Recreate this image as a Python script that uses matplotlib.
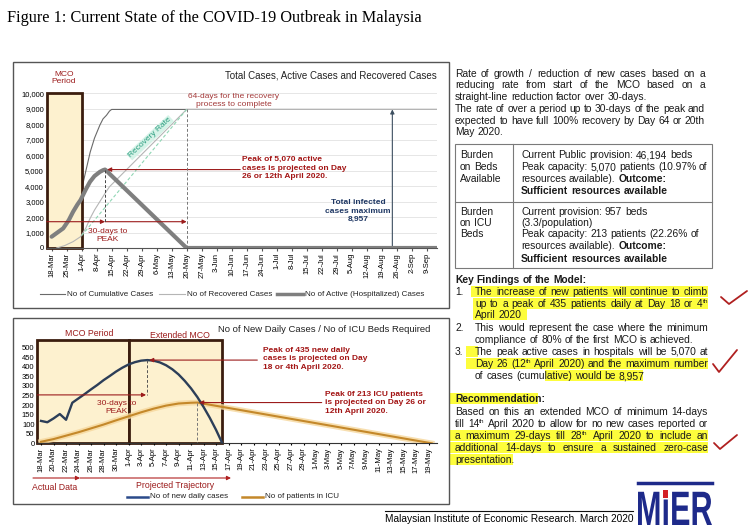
import numpy as np
import matplotlib.pyplot as plt
from matplotlib.patches import Rectangle, PathPatch
from matplotlib.textpath import TextPath
from matplotlib.font_manager import FontProperties
from matplotlib.transforms import Affine2D

plt.rcParams['font.family'] = ['Liberation Sans', 'DejaVu Sans']

# ---- top chart data (day 0 = 18-Mar) ----
week_labels = ['18-Mar', '25-Mar', '1-Apr', '8-Apr', '15-Apr', '22-Apr', '29-Apr', '6-May',
               '13-May', '20-May', '27-May', '3-Jun', '10-Jun', '17-Jun', '24-Jun', '1-Jul',
               '8-Jul', '15-Jul', '22-Jul', '29-Jul', '5-Aug', '12-Aug', '19-Aug', '26-Aug',
               '2-Sep', '9-Sep']
cum_day = [0, 3, 6, 9, 12, 13.5, 15, 16.5, 18, 20, 22.5, 24, 25.6, 27, 28, 179.7]
cum_val = [790, 1030, 1520, 2030, 2626, 3420, 4400, 5300, 6200, 7100, 7940, 8350, 8580, 8850, 8957, 8957]
active_day = [0, 2, 5.4, 8, 10, 12, 13.5, 16, 17.9, 20, 22.5, 24, 24.9, 26, 27, 63, 179.7]
active_val = [730, 930, 1270, 1800, 2340, 2800, 3100, 3800, 4280, 4650, 4920, 5030, 5070, 4950, 4800, 0, 0]
rec_day = [2.3, 6, 10, 13.5, 16, 17.9, 20, 22.5, 25, 27, 63, 179.7]
rec_val = [0, 150, 410, 730, 1300, 1900, 2450, 3000, 3550, 3960, 8957, 8957]
mco_end = 14
recovery_end = 63
total_max = 8957

# ---- bottom chart data ----
day2_labels = ['18-Mar', '20-Mar', '22-Mar', '24-Mar', '26-Mar', '28-Mar', '30-Mar', '1-Apr',
               '3-Apr', '5-Apr', '7-Apr', '9-Apr', '11-Apr', '13-Apr', '15-Apr', '17-Apr',
               '19-Apr', '21-Apr', '23-Apr', '25-Apr', '27-Apr', '29-Apr', '1-May', '3-May',
               '5-May', '7-May', '9-May', '11-May', '13-May', '15-May', '17-May', '19-May']
daily_day = list(range(30))
daily_val = [117, 110, 130, 153, 123, 212, 235, 258, 282, 305, 330, 352, 375, 395, 412,
             424, 432, 435, 432, 423, 408, 387, 360, 326, 287, 242, 190, 133, 70, 0]
icu_day = [0, 2, 4, 6, 8, 10, 12, 14, 16, 18, 20, 22, 24, 25, 62.5]
icu_val = [8, 22, 40, 58, 78, 98, 120, 141, 162, 181, 197, 208, 212, 213, 0]
ext_mco_end = 29

RED = '#9c1c1c'
NAVY = '#2c3e58'
BOX = '#fdf1cf'
BOXEDGE = '#3b1d0e'

fig = plt.figure(figsize=(7.49, 5.30), dpi=100)
ov = fig.add_axes([0, 0, 1, 1], zorder=-1)
ov.set_xlim(0, 749)
ov.set_ylim(530, 0)
ov.axis('off')
renderer = fig.canvas.get_renderer()

def px_axes(l, t, r, b):
    return fig.add_axes([l / 749, 1 - b / 530, (r - l) / 749, (b - t) / 530])

# frames
for (l, t, r, b) in [(13, 62, 449, 308), (13, 318, 449, 504)]:
    ov.add_patch(Rectangle((l, t), r - l, b - t, fill=False, ec='#555555', lw=1))

ov.text(7, 18, 'Figure 1: Current State of the COVID-19 Outbreak in Malaysia',
        fontfamily='Liberation Serif', fontsize=11.7, va='center')

# ================= top chart =================
ax = px_axes(46.7, 93.3, 436.7, 248)
ax.patch.set_alpha(0)
ax.set_xlim(-2.3, 179.7)
ax.set_ylim(0, 10000)
ax.yaxis.grid(True, color='#e2e2e2', lw=0.6, zorder=0)
ax.set_axisbelow(True)
for s in ['top', 'right', 'left']:
    ax.spines[s].set_visible(False)
ax.spines['bottom'].set_color('#555555')
ax.set_yticks(np.arange(0, 10001, 1000))
ax.set_yticklabels(['{:,}'.format(v) for v in range(0, 10001, 1000)], fontsize=5.5)
ax.set_xticks(np.arange(len(week_labels)) * 7)
ax.set_xticklabels(week_labels, rotation=90, fontsize=5.5)
ax.tick_params(axis='y', length=0, pad=2)
ax.tick_params(axis='x', length=2, pad=1.5, color='#555555')

ax.plot(cum_day, cum_val, color='#6a6a6a', lw=0.8, zorder=1)
ax.add_patch(Rectangle((-2.3, 0), mco_end + 2.3, 10000, fc=BOX, ec=BOXEDGE, lw=2, zorder=2, clip_on=False))
ax.plot(rec_day, rec_val, color='#b5b5b5', lw=0.8, zorder=3)
ax.plot([14, recovery_end], [800, total_max], color='#8fd6b4', lw=0.8, ls=(0, (3, 2)), zorder=3)
ax.plot(active_day, active_val, color='#7f7f7f', lw=3, zorder=4, solid_capstyle='round')

ipk = int(np.argmax(active_val))
pk_day, pk_val = active_day[ipk], active_val[ipk]
arw = dict(arrowstyle='-|>', color=RED, lw=0.8, mutation_scale=6, shrinkA=0, shrinkB=0)
ax.annotate('', xy=(pk_day, 1700), xytext=(-2.3, 1700), arrowprops=arw, zorder=5)
ax.annotate('', xy=(recovery_end, 1700), xytext=(pk_day, 1700), arrowprops=arw, zorder=5)
ax.annotate('', xy=(pk_day + 1, pk_val), xytext=(88, pk_val), arrowprops=arw, zorder=5)
ax.plot([pk_day, pk_day], [pk_val, 1700], color='#444444', lw=0.7, ls=(0, (3, 2)), zorder=5)
ax.plot([recovery_end, recovery_end], [0, total_max], color='#777777', lw=0.7, ls=(0, (3, 2)), zorder=5)
ax.annotate('', xy=(159, total_max), xytext=(159, 0),
            arrowprops=dict(arrowstyle='-|>', color='#3d4f60', lw=0.8, mutation_scale=6, shrinkA=0, shrinkB=0))
ax.text(26, 840, '30-days to\nPEAK', color=RED, fontsize=6, ha='center', va='center', zorder=6)
ax.text(89, 5160, 'Peak of 5,070 active\ncases is projected on Day\n26 or 12th April 2020.',
        color='#a31515', fontsize=6, fontweight='bold', ha='left', va='center', linespacing=1.3)
ax.text(143, 2370, 'Total infected\ncases maximum\n8,957', color='#1f3864', fontsize=6,
        fontweight='bold', ha='center', va='center', linespacing=1.3)
ax.text(85, 9530, '64-days for the recovery\nprocess to complete', color='#a33a3a', fontsize=6,
        ha='center', va='center', linespacing=1.25, clip_on=False)
ax.text(46, 7130, 'Recovery Rate', color='#2a9d7f', fontsize=6, rotation=43, ha='center', va='center',
        bbox=dict(fc='#d6f3e8', ec='none', pad=0.6))

ov.text(437, 75, 'Total Cases, Active Cases and Recovered Cases', ha='right', va='center', fontsize=7, color='#222222')
ov.text(64, 78, 'MCO\nPeriod', color=RED, fontsize=6, ha='center', va='center', linespacing=1.15)

# legends drawn by hand under each chart
def legend_item(x0, x1, y, color, lw, label, fs=5.8):
    ov.plot([x0, x1], [y, y], color=color, lw=lw)
    ov.text(x1 + 2, y, label, fontsize=fs, va='center', color='#222222')

legend_item(40, 65, 294, '#6a6a6a', 0.8, 'No of Cumulative Cases')
legend_item(159, 185, 294, '#b5b5b5', 0.8, 'No of Recovered Cases')
legend_item(277, 303, 294, '#7f7f7f', 2.5, 'No of Active (Hospitalized) Cases')

# ================= bottom chart =================
bx = px_axes(37.3, 340, 436.7, 443.3)
bx.patch.set_alpha(0)
bx.set_xlim(-0.6, 63.3)
bx.set_ylim(0, 540)
for s in ['top', 'right', 'left']:
    bx.spines[s].set_visible(False)
bx.spines['bottom'].set_color('#333333')
bx.set_yticks(np.arange(0, 501, 50))
bx.set_yticklabels([str(v) for v in range(0, 501, 50)], fontsize=5.5)
bx.set_xticks(np.arange(len(day2_labels)) * 2)
bx.set_xticklabels(day2_labels, rotation=90, fontsize=5.5)
bx.tick_params(axis='y', length=0, pad=2)
bx.tick_params(axis='x', length=1.5, pad=1.5)

bx.add_patch(Rectangle((-0.6, 0), mco_end + 0.6, 540, fc=BOX, ec=BOXEDGE, lw=2, zorder=1, clip_on=False))
bx.add_patch(Rectangle((mco_end, 0), ext_mco_end - mco_end, 540, fc=BOX, ec=BOXEDGE, lw=2, zorder=1, clip_on=False))
bx.plot(icu_day, icu_val, color='#f6d79c', lw=4, alpha=0.8, zorder=2)
bx.plot(icu_day, icu_val, color='#c4882a', lw=1.5, zorder=3)
bx.plot(daily_day, daily_val, color=NAVY, lw=1.7, zorder=4)

idp = int(np.argmax(daily_val))
dpk_day, dpk_val = daily_day[idp], daily_val[idp]
iip = int(np.argmax(icu_val))
ipk_day, ipk_val = icu_day[iip], icu_val[iip]
bx.annotate('', xy=(dpk_day + 0.3, dpk_val), xytext=(34.6, dpk_val), arrowprops=arw, zorder=5)
bx.annotate('', xy=(dpk_day - 0.2, 253), xytext=(-0.6, 253), arrowprops=arw, zorder=5)
bx.plot([dpk_day, dpk_day], [dpk_val, 253], color='#555555', lw=0.7, ls=(0, (3, 2)), zorder=5)
bx.annotate('', xy=(ipk_day + 0.3, ipk_val), xytext=(44.9, ipk_val), arrowprops=arw, zorder=5)
bx.plot([ipk_day, ipk_day], [ipk_val, 0], color='#777777', lw=0.7, ls=(0, (3, 2)), zorder=5)
bx.text(12.1, 187, '30-days to\nPEAK', color=RED, fontsize=6, ha='center', va='center', zorder=6)
bx.text(35.5, 443, 'Peak of 435 new daily\ncases is projected on Day\n18 or 4th April 2020.',
        color='#a31515', fontsize=6, fontweight='bold', ha='left', va='center', linespacing=1.3)
bx.text(45.4, 212, 'Peak 0f 213 ICU patients\nis projected on Day 26 or\n12th April 2020.',
        color='#a31515', fontsize=6, fontweight='bold', ha='left', va='center', linespacing=1.3)

ov.text(89, 334, 'MCO Period', color=RED, fontsize=6.3, ha='center', va='center')
ov.text(180, 335, 'Extended MCO', color=RED, fontsize=6.3, ha='center', va='center')
ov.text(218, 330, 'No of New Daily Cases / No of ICU Beds Required', fontsize=6.8, va='center', color='#222222')

parw = dict(arrowstyle='-|>', color='#b02020', lw=0.8, mutation_scale=6, shrinkA=0, shrinkB=0)
ov.annotate('', xy=(80, 478), xytext=(33, 478), arrowprops=parw)
ov.annotate('', xy=(231, 478), xytext=(80, 478), arrowprops=parw)
ov.text(55, 488, 'Actual Data', color=RED, fontsize=6.3, ha='center', va='center')
ov.text(175, 486, 'Projected Trajectory', color=RED, fontsize=6.3, ha='center', va='center')
legend_item(127, 148, 497, '#2b4a8a', 1.8, 'No of new daily cases')
legend_item(242, 263, 497, '#c4882a', 1.8, 'No of patients in ICU')

# ================= right panel text =================
FS = 7.4

def text_w(t):
    return t.get_window_extent(renderer).width

def put_line(x, y, segs, x1=None, fs=FS, color='#1a1a1a'):
    if isinstance(segs, str):
        segs = [(segs, 'normal')]
    words = []
    for s, wt in segs:
        words += [(w, wt) for w in s.split()]
    while True:
        arts, widths = [], []
        for w, wt in words:
            base, _, sup = w.partition('^')
            a = ov.text(x, y + 3.3, base, fontsize=fs, fontweight=wt, color=color, va='baseline', ha='left')
            parts = [(a, 0)]
            wd = text_w(a)
            if sup:
                s = ov.text(x, y + 3.3 - fs * 0.55, sup, fontsize=fs * 0.62, fontweight=wt,
                            color=color, va='baseline', ha='left')
                parts.append((s, wd))
                wd += text_w(s)
            arts.append(parts)
            widths.append(wd)
        gap = fs * 100 / 72 * 0.278
        if x1 is not None and len(arts) > 1:
            gap = (x1 - x - sum(widths)) / (len(arts) - 1)
        if gap >= 1.6 or fs < 6:
            break
        for parts in arts:
            for a, _ in parts:
                a.remove()
        fs -= 0.2
    pos = x
    for parts, w in zip(arts, widths):
        for a, off in parts:
            a.set_x(pos + off)
        pos += w + gap

intro = [('Rate of growth / reduction of new cases based on a', 74, True),
         ('reducing rate from start of the MCO based on a', 85, True),
         ('straight-line reduction factor over 30-days.', 96.3, False),
         ('The rate of over a period up to 30-days of the peak and', 109, True),
         ('expected to have full 100% recovery by Day 64 or 20th', 120.5, True),
         ('May 2020.', 131.7, False)]
for txt, y, just in intro:
    put_line(455, y, txt, 705 if just else None)

# table
ov.add_patch(Rectangle((455, 144), 256.7, 124.3, fill=False, ec='#7a7a7a', lw=0.8))
ov.plot([513.3, 513.3], [144, 268.3], color='#7a7a7a', lw=0.8)
ov.plot([455, 711.7], [201.7, 201.7], color='#7a7a7a', lw=0.8)
for txt, y in [('Burden', 155), ('on Beds', 166.7), ('Available', 178.3),
               ('Burden', 211.7), ('on ICU', 222.7), ('Beds', 234)]:
    put_line(460, y, txt)
B = 'bold'
N = 'normal'
cells = [([('Current Public provision: 46,194 beds', N)], 155),
         ([('Peak capacity: 5,070 patients (10.97% of', N)], 166.7),
         ([('resources available).', N), ('Outcome:', B)], 178.3),
         ([('Sufficient resources available', B)], 190.7),
         ([('Current provision: 957 beds', N)], 211.7),
         ([('(3.3/population)', N)], 222.7),
         ([('Peak capacity: 213 patients (22.26% of', N)], 234),
         ([('resources available).', N), ('Outcome:', B)], 246),
         ([('Sufficient resources available', B)], 258.3)]
for segs, y in cells:
    put_line(521, y, segs)

# highlights
YEL = '#fdfd3c'
for (x0, x1, y) in [(471, 708, 291.7), (473, 708, 303.3), (473, 527, 315),
                    (466, 478, 351.7), (466, 708, 364), (545, 643, 376),
                    (450, 538, 398.3), (450, 708, 435.7), (450, 708, 447.7), (450, 513, 460)]:
    ov.add_patch(Rectangle((x0, y - 5.8), x1 - x0, 11.2, fc=YEL, ec='none', zorder=0))

put_line(455, 279.3, [('Key Findings of the Model:', B)])
put_line(455, 291.7, '1.')
put_line(455, 327.3, '2.')
put_line(455, 351.7, '3.')
findings = [('The increase of new patients will continue to climb', 291.7, True),
            ('up to a peak of 435 patients daily at Day 18 or 4^th', 303.3, True),
            ('April 2020', 315, False),
            ('This would represent the case where the minimum', 327.3, True),
            ('compliance of 80% of the first MCO is achieved.', 339.3, False),
            ('The peak active cases in hospitals will be 5,070 at', 351.7, True),
            ('Day 26 (12^th April 2020) and the maximum number', 364, True),
            ('of cases (cumulative) would be 8,957', 376, False)]
for txt, y, just in findings:
    put_line(475, y, txt, 708 if just else None)

put_line(455, 398.3, [('Recommendation:', B)])
recs = [('Based on this an extended MCO of minimum 14-days', 411.7, True),
        ('till 14^th April 2020 to allow for no new cases reported or', 424, True),
        ('a maximum 29-days till 28^th April 2020 to include an', 435.7, True),
        ('additional 14-days to ensure a sustained zero-case', 447.7, True),
        ('presentation.', 460, False)]
for txt, y, just in recs:
    put_line(455, y, txt, 708 if just else None)

# hand-drawn ticks
for xs, ys in [([721, 729, 747], [297, 304, 291]),
               ([713, 719, 737], [364, 372, 350]),
               ([714, 720, 737], [443, 449, 435])]:
    ov.plot(xs, ys, color='#b02020', lw=1.3, solid_capstyle='round')

# footer
ov.plot([385, 633], [510.7, 510.7], color='#111111', lw=0.8)
ov.text(385, 519.5, 'Malaysian Institute of Economic Research. March 2020', fontsize=7.25, va='center')

# MIER logo, letters stretched into the box
ov.plot([638, 712], [483, 483], color='#1e2a8a', lw=2.5)
fp = FontProperties(family='Liberation Sans', weight='bold')
tp = TextPath((0, 0), 'MiER', prop=fp, size=1)
ext = tp.get_extents()
sx = 74 / ext.width
sy = 35 / ext.height
tr = Affine2D().translate(-ext.x0, -ext.y0).scale(sx, -sy).translate(638, 525)
ov.add_patch(PathPatch(tr.transform_path(tp), fc='#1e2a8a', ec='none'))
# red dot on the i
i_right = TextPath((0, 0), 'Mi', prop=fp, size=1).get_extents().x1
i_left = i_right - TextPath((0, 0), 'i', prop=fp, size=1).get_extents().width
(dx0, dy0), (dx1, dy1) = tr.transform([(i_left, 0.575), (i_right, ext.y1)])
ov.add_patch(Rectangle((dx0 - 0.5, dy1 - 0.5), dx1 - dx0 + 1, dy0 - dy1 + 1, fc='#d32027', ec='none'))

fig.savefig('out.png', dpi=100)
